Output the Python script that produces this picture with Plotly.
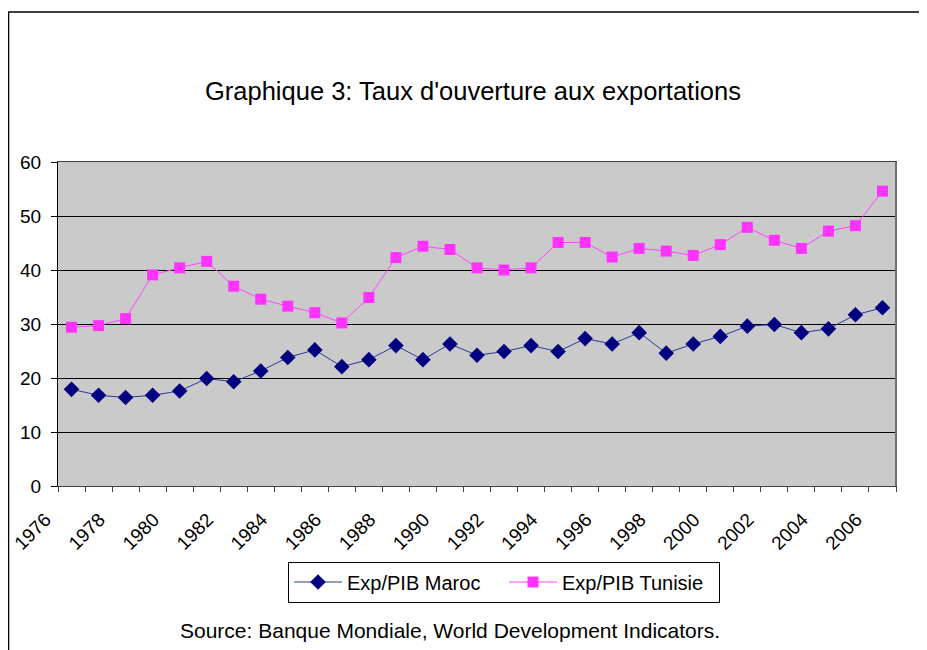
import plotly.graph_objects as go

# data (Exp/PIB in %)
years = list(range(1976, 2007))
maroc = [17.9, 16.8, 16.4, 16.8, 17.6, 19.9, 19.3, 21.3, 23.8, 25.2, 22.1,
         23.4, 26.0, 23.4, 26.3, 24.2, 24.9, 26.0, 24.9, 27.3, 26.3,
         28.4, 24.6, 26.3, 27.7, 29.6, 29.9, 28.4, 29.1, 31.7, 33.0]
tunisie = [29.4, 29.7, 31.0, 39.1, 40.4, 41.6, 37.0, 34.6, 33.3, 32.1, 30.2,
           34.9, 42.3, 44.4, 43.8, 40.4, 40.0, 40.4, 45.1, 45.1, 42.4,
           44.0, 43.5, 42.7, 44.7, 47.9, 45.5, 44.0, 47.2, 48.2, 54.6]
tick_years = list(range(1976, 2007, 2))

FONT = "Liberation Sans, Arial, sans-serif"

# the page body has an 8px margin, so the figure is 8px smaller each way
W, H = 919, 642
OFF = 8

fig = go.Figure()
fig.add_scatter(
    x=years, y=maroc, name="Exp/PIB Maroc", mode="lines+markers",
    line=dict(color="#2a3a9a", width=1),
    marker=dict(symbol="diamond", size=12, color="#000080"),
)
fig.add_scatter(
    x=years, y=tunisie, name="Exp/PIB Tunisie", mode="lines+markers",
    line=dict(color="#ff44ff", width=1),
    marker=dict(symbol="square", size=11, color="#ff33ff"),
)

fig.update_layout(
    width=W,
    height=H,
    margin=dict(l=58 - OFF, r=927 - 896, t=162 - OFF, b=650 - 486),
    paper_bgcolor="white",
    plot_bgcolor="#cacaca",
    font=dict(family=FONT, size=20, color="black"),
    title=dict(
        text="Graphique 3: Taux d'ouverture aux exportations",
        font=dict(size=25.5, color="black"),
        x=(473 - OFF) / W, xref="container", xanchor="center",
        y=1 - (91 - OFF) / H, yref="container", yanchor="middle",
    ),
    legend=dict(
        orientation="h",
        x=(504 - 58) / 838, y=(486 - 582) / 324,
        xanchor="center", yanchor="middle",
        bordercolor="black", borderwidth=1,
        font=dict(size=20),
        bgcolor="white",
        itemwidth=48,
        entrywidth=152,
    ),
    showlegend=True,
)

fig.update_xaxes(
    range=[1975.5, 2006.5],
    tickvals=tick_years,
    ticktext=[str(y) for y in tick_years],
    tickangle=-45,
    ticks="",
    showgrid=False,
    zeroline=False,
    automargin=False,
    showline=True, linecolor="#404040", linewidth=1, mirror=True,
    minor=dict(ticks="outside", tick0=1975.5, dtick=1, ticklen=5,
               tickcolor="#404040", showgrid=False),
    tickfont=dict(size=19),
    ticklabelshift=-26,
    ticklabelstandoff=14,
)
fig.update_yaxes(
    range=[0, 60],
    dtick=10,
    ticks="outside", ticklen=6, tickcolor="black",
    showgrid=True, gridcolor="black", gridwidth=1,
    zeroline=False,
    automargin=False,
    showline=True, linecolor="black", linewidth=1, mirror=True,
    tickfont=dict(size=19),
    ticklabelstandoff=6,
)

# grey right edge of the plot area
fig.add_shape(
    type="line", xref="paper", yref="paper",
    x0=1, x1=1, y0=0, y1=1,
    line=dict(color="#707070", width=2),
)

# outer chart frame (left and top edges visible)
fig.add_shape(
    type="rect", xref="paper", yref="paper",
    x0=(8.5 - 58) / 838, x1=1.2, y0=-1.0, y1=(486 - 12) / 324,
    line=dict(color="black", width=1.5), layer="below",
)

fig.add_annotation(
    text="Source: Banque Mondiale, World Development Indicators.",
    xref="paper", yref="paper",
    x=(450 - 58) / 838, y=(486 - 630) / 324,
    xanchor="center", yanchor="middle",
    showarrow=False, font=dict(size=21),
)

fig.write_html("out.html")
